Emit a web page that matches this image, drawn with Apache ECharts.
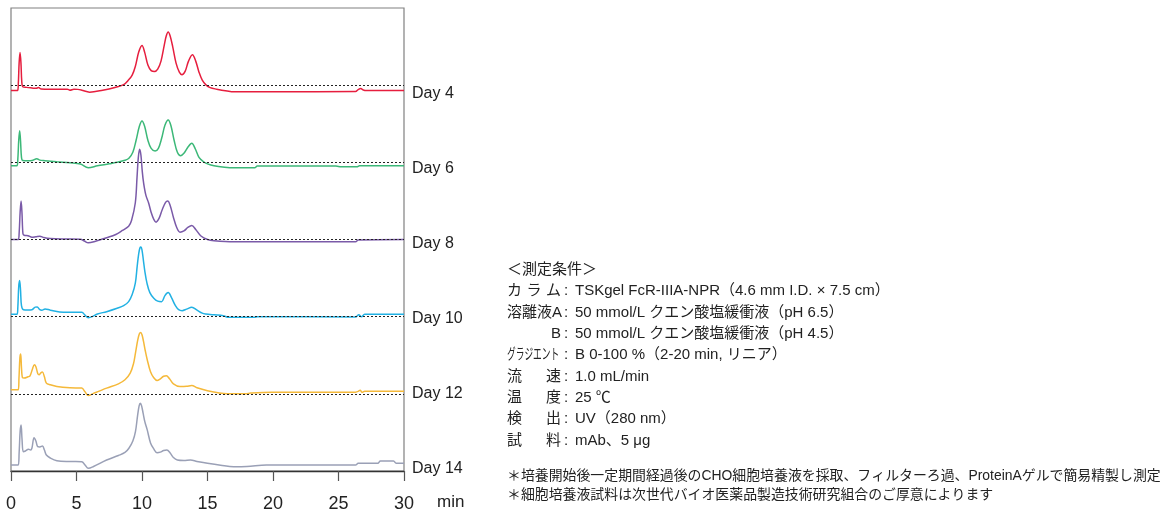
<!DOCTYPE html>
<html><head><meta charset="utf-8">
<script src="https://cdn.jsdelivr.net/npm/echarts@6/dist/echarts.min.js"></script>
<style>html,body{margin:0;padding:0;background:#fff}#c{width:1162px;height:509px}</style>
</head><body><div id="c"></div>
<script>
// ---------- DATA ----------
const dayNames = ['Day 4', 'Day 6', 'Day 8', 'Day 10', 'Day 12', 'Day 14'];
const xTicks = [0, 5, 10, 15, 20, 25, 30];
const xUnit = 'min';
// [retention time (min), signal above that trace's baseline]
const day4 = [[0,-5.4],[0.5,-5.4],[0.56,2],[0.62,22],[0.69,32.6],[0.76,22],[0.82,4],[0.9,-1.5],[1.2,-2.2],[1.6,-2.8],[1.9,-3.2],[2.1,-2.4],[2.3,-3.8],[3.0,-4],[4.3,-4],[4.5,-5],[4.8,-4],[5.1,-4.2],[5.4,-5],[6.0,-7],[7.0,-5],[8.0,-2],[8.6,0.5],[8.98,5.3],[9.25,10],[9.49,18.6],[9.75,33],[10.0,39.6],[10.2,33],[10.45,20],[10.7,14.5],[10.95,13.6],[11.2,16],[11.45,24],[11.7,40],[11.85,49],[12.0,53],[12.15,49],[12.35,38],[12.6,22],[12.85,13],[13.05,10.5],[13.3,14],[13.55,24],[13.85,30.3],[14.1,24],[14.35,13],[14.6,5],[14.9,0],[15.2,-2.5],[15.7,-4],[16.5,-5.8],[17.0,-6.6],[20,-6.6],[26.3,-6.4],[26.5,-4.5],[26.7,-3.4],[26.9,-4.8],[27.1,-5.4],[30,-5.4]];
const day6 = [[0,-3.4],[0.45,-3.4],[0.52,3],[0.59,22],[0.66,31.6],[0.73,21],[0.8,5],[0.9,1.8],[1.3,1.6],[1.6,1.8],[1.97,3.6],[2.2,2.2],[2.6,1.6],[3.5,0.5],[4.5,-0.5],[5.3,-1.7],[5.9,-5.4],[6.6,-3.5],[7.5,-1.5],[8.1,0],[8.7,2],[9.0,4],[9.3,10],[9.55,22],[9.8,36],[10.0,41.3],[10.2,36],[10.45,22],[10.7,14],[11.0,11.3],[11.25,14],[11.5,24],[11.75,37],[12.0,42.3],[12.2,37],[12.45,22],[12.7,10],[12.95,6.6],[13.2,9],[13.5,15],[13.8,19],[14.05,14],[14.35,5],[14.7,0.6],[15.0,-1.5],[15.5,-3.4],[16.3,-4.8],[17,-5.4],[18.6,-5.4],[18.8,-3.7],[24.8,-3.7],[25.2,-4.5],[26.4,-4.5],[26.6,-3.4],[30,-3.4]];
const day8 = [[0,0],[0.55,0],[0.62,6],[0.7,28],[0.77,38.3],[0.84,26],[0.91,6],[1.0,4.3],[1.3,3.8],[1.6,2.3],[1.9,2.8],[2.2,3.3],[2.5,2],[3.0,1],[4.0,0.5],[5.3,0.3],[5.6,-1.5],[5.9,-3.3],[6.4,-2],[7.3,1.7],[8.0,5],[8.5,9],[8.98,13.3],[9.2,19],[9.49,36.7],[9.62,62],[9.72,82],[9.82,90],[9.92,84],[10.02,68],[10.12,56.7],[10.3,44],[10.5,36.7],[10.7,27],[10.9,20],[11.07,17.3],[11.3,21],[11.55,30],[11.8,37],[11.96,38.3],[12.15,34],[12.4,22],[12.65,12],[12.9,7.3],[13.2,8.5],[13.5,12],[13.8,14],[14.1,10],[14.5,3.5],[15.0,0],[15.5,-1.2],[17.0,-2.3],[20,-2.3],[26.3,-2.3],[26.5,-0.5],[30,0]];
const day10 = [[0,2.4],[0.46,2.4],[0.52,9],[0.59,30],[0.66,36],[0.73,26],[0.8,11],[0.95,7],[1.3,6.7],[1.6,7],[1.85,9.5],[2.0,9.7],[2.2,7],[2.35,6.5],[2.6,7.7],[3.0,6.5],[4.0,4.4],[5.4,4.4],[5.65,1.5],[5.9,-1],[6.2,0],[6.6,2.7],[7.3,5],[8.1,8.4],[8.6,11],[8.98,15],[9.25,22],[9.49,33.4],[9.63,50],[9.75,63],[9.84,68.5],[9.92,69.4],[10.0,66.5],[10.1,57],[10.22,45],[10.38,33.4],[10.6,24],[10.9,18.4],[11.2,15.5],[11.5,15],[11.75,21],[12.0,24],[12.25,19],[12.55,11],[12.8,7],[13.06,6],[13.4,7.5],[13.8,9.4],[14.2,6.5],[14.6,3.5],[14.85,2.7],[15.5,1.8],[16.2,1],[16.6,-0.6],[18.6,-0.6],[18.8,0],[26.3,-0.3],[26.55,2],[26.75,-0.2],[27.0,2.3],[30,2.3]];
const day12 = [[0,4],[0.55,4],[0.61,16],[0.68,36],[0.74,39.7],[0.8,26],[0.88,16],[1.0,15.7],[1.3,17],[1.45,18],[1.62,24],[1.78,29],[1.9,27],[2.05,20],[2.14,19],[2.28,21],[2.4,21.7],[2.55,17],[2.7,10.7],[3.0,9],[3.5,7.3],[4.5,6],[5.4,5.7],[5.65,2],[5.9,-1.7],[6.3,0.5],[7.3,5.7],[8.2,10],[8.7,14],[9.1,20.7],[9.35,30],[9.5,40.7],[9.68,54],[9.8,60],[9.9,61.3],[10.0,59],[10.12,52],[10.25,43],[10.4,34],[10.65,22],[10.9,16],[11.15,13.3],[11.4,15],[11.65,17.5],[11.86,18],[12.1,15],[12.4,10],[12.9,7.3],[13.4,7.5],[13.8,8.3],[14.2,6],[15.0,3],[15.8,1],[16.5,0],[17.9,0],[18.3,0.8],[19.9,1.7],[26.3,1.7],[26.5,2.4],[26.65,3.7],[26.8,1.5],[27.0,2.6],[30,2.6]];
const day14 = [[0,6],[0.55,6],[0.62,18],[0.7,40],[0.77,46],[0.84,32],[0.94,19.3],[1.1,20],[1.33,21.7],[1.5,21],[1.6,23],[1.76,33.3],[1.9,30],[2.04,24.3],[2.2,24],[2.4,25],[2.55,21],[2.7,16],[3.0,13],[3.5,10.3],[4.5,9.5],[5.4,9.3],[5.65,6],[5.9,2.7],[6.3,4.5],[7.3,11],[8.2,15.5],[8.7,18.5],[9.0,22.7],[9.3,30],[9.5,39.3],[9.66,55],[9.78,65],[9.87,67.7],[9.97,65],[10.08,58],[10.22,49],[10.4,41],[10.65,28],[10.9,22],[11.15,18.3],[11.4,18.8],[11.65,20.5],[11.9,21],[12.15,18],[12.4,13.5],[12.7,11],[13.2,10.5],[13.7,11],[14.2,9.5],[15,7.7],[16,5.8],[17,4.3],[18,4.5],[19.5,6],[26.3,6],[26.5,7.7],[28.0,7.7],[28.2,10],[29.2,10],[29.4,7.7],[30,7.7]];
const traces = [day4, day6, day8, day10, day12, day14];

const condTitle = '＜測定条件＞';
const condLabels = ['カ ラ ム', '溶離液A', 'B', 'グラジエント', '流 速', '温 度', '検 出', '試 料'];
const condValues = ['TSKgel FcR-IIIA-NPR（4.6 mm I.D. × 7.5 cm）', '50 mmol/L クエン酸塩緩衝液（pH 6.5）', '50 mmol/L クエン酸塩緩衝液（pH 4.5）', 'B 0-100 %（2-20 min, リニア）', '1.0 mL/min', '25 ℃', 'UV（280 nm）', 'mAb、5 μg'];
const footnotes = ['＊培養開始後一定期間経過後のCHO細胞培養液を採取、フィルターろ過、ProteinAゲルで簡易精製し測定', '＊細胞培養液試料は次世代バイオ医薬品製造技術研究組合のご厚意によります'];

// ---------- STYLE / LAYOUT ----------
const colors = ['#e61e3e', '#3cb878', '#7a5aa8', '#22b1e3', '#f5b93a', '#9aa0b6'];
const FONT = '"Liberation Sans", "Noto Sans CJK JP", sans-serif';
const boxL = 11, boxR = 404, boxT = 8, boxB = 471;
const bandH = (boxB - boxT) / traces.length;
const fullScale = 77;

const grids = [], xAxes = [], yAxes = [], series = [];
traces.forEach((d, i) => {
  grids.push({left: boxL, width: boxR - boxL, top: boxT + i * bandH, height: bandH, show: false, containLabel: false, outerBoundsMode: 'none'});
  xAxes.push({gridIndex: i, type: 'value', min: 0, max: 30, show: false});
  yAxes.push({gridIndex: i, type: 'value', min: 0, max: fullScale, show: false});
  const s = {
    type: 'line', name: dayNames[i], xAxisIndex: i, yAxisIndex: i, data: d,
    showSymbol: false, symbol: 'none', smooth: 0.35, clip: false,
    lineStyle: {color: colors[i], width: 1.5}, z: 3
  };
  if (i < traces.length - 1) {
    s.markLine = {silent: true, symbol: 'none', label: {show: false},
      lineStyle: {type: [2, 2], color: '#222', width: 1}, data: [{yAxis: 0}], animation: false};
  }
  series.push(s);
});
// frame grid with x axis
const fi = traces.length;
grids.push({left: boxL, width: boxR - boxL, top: boxT, height: boxB - boxT, show: true, borderColor: '#808080', borderWidth: 1.2, containLabel: false, outerBoundsMode: 'none'});
xAxes.push({gridIndex: fi, type: 'value', min: xTicks[0], max: xTicks[xTicks.length - 1], interval: xTicks[1] - xTicks[0],
  axisLine: {show: true, lineStyle: {color: '#333', width: 1.3}},
  axisTick: {show: true, inside: false, length: 10, lineStyle: {color: '#555', width: 1.2}},
  axisLabel: {show: true, margin: 24, fontSize: 18, color: '#222', fontFamily: FONT},
  splitLine: {show: false}});
yAxes.push({gridIndex: fi, type: 'value', min: 0, max: 1, show: false});

const graphic = [];
// Day labels
dayNames.forEach((n, i) => {
  graphic.push({type: 'text', x: 412, y: boxT + bandH + 8 + i * 75,
    style: {text: n, fill: '#222', fontSize: 16, fontFamily: FONT, align: 'left', verticalAlign: 'middle'}});
});
graphic.push({type: 'text', x: 437, y: 502, style: {text: xUnit, fill: '#222', fontSize: 17, fontFamily: FONT, align: 'left', verticalAlign: 'middle'}});

// Conditions block
const cx0 = 507, cx1 = 561, colonX = 566, valX = 575, cy0 = 270, lh = 21.3;
const tStyle = (t, align) => ({text: t, fill: '#222', fontSize: 15, fontFamily: FONT, align: align, verticalAlign: 'middle'});
graphic.push({type: 'text', x: cx0, y: cy0, style: tStyle(condTitle, 'left')});
condLabels.forEach((lab, i) => {
  const y = cy0 + (i + 1) * lh;
  const parts = lab.split(' ');
  if (parts.length > 1) {
    parts.forEach((p, k) => {
      if (k === 0) graphic.push({type: 'text', x: cx0, y, style: tStyle(p, 'left')});
      else if (k === parts.length - 1) graphic.push({type: 'text', x: cx1, y, style: tStyle(p, 'right')});
      else graphic.push({type: 'text', x: cx0 + (cx1 - cx0) * k / (parts.length - 1), y, style: tStyle(p, 'center')});
    });
  } else if (lab.length === 1) {
    graphic.push({type: 'text', x: cx1, y, style: tStyle(lab, 'right')});
  } else if (/^[\u30A0-\u30FF]+$/.test(lab)) {
    graphic.push({type: 'text', x: cx0, y, scaleX: 0.58, style: tStyle(lab, 'left')});
  } else {
    graphic.push({type: 'text', x: cx0, y, style: tStyle(lab, 'left')});
  }
  graphic.push({type: 'text', x: colonX, y, style: tStyle(':', 'center')});
  graphic.push({type: 'text', x: valX, y, style: tStyle(condValues[i], 'left')});
});
footnotes.forEach((f, i) => {
  graphic.push({type: 'text', x: cx0, y: 476 + i * 19, style: {text: f, fill: '#222', fontSize: 13.9, fontFamily: FONT, align: 'left', verticalAlign: 'middle'}});
});

const chart = echarts.init(document.getElementById('c'), null, {renderer: 'canvas'});
chart.setOption({
  animation: false,
  backgroundColor: '#fff',
  grid: grids, xAxis: xAxes, yAxis: yAxes, series: series, graphic: graphic
});
</script>
</body></html>
